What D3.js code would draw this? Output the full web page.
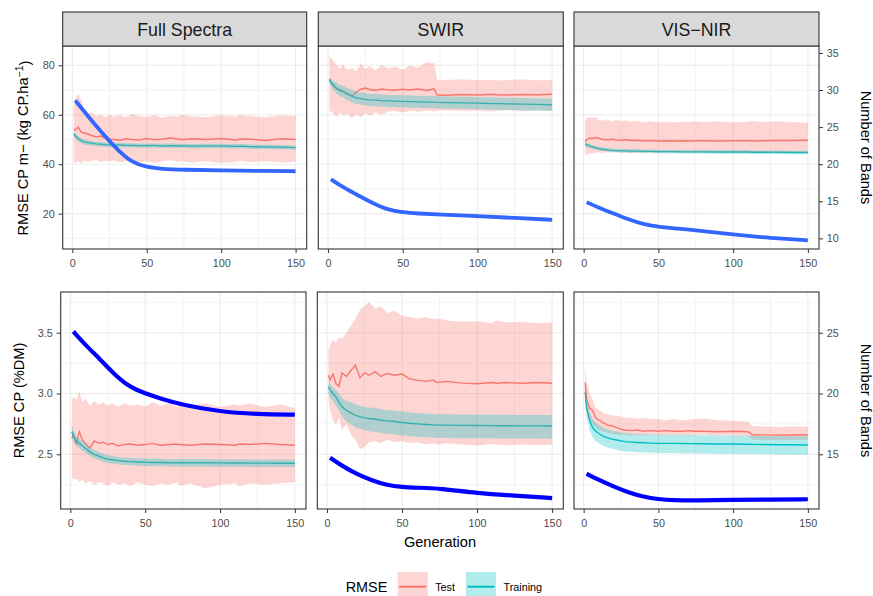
<!DOCTYPE html>
<html>
<head>
<meta charset="utf-8">
<script src="https://cdn.jsdelivr.net/npm/d3@7"></script>
<style>
  body { margin: 0; background: #fff; }
  text { font-family: "Liberation Sans", Arial, sans-serif; }
</style>
</head>
<body>
<script>
var gens = [1,2,4,6,8,10,13,16,19,22,25,28,32,36,40,45,50,55,60,66,71,73,80,90,100,110,113,120,130,140,150];
var blueGens = [2,10,20,30,40,50,60,75,100,125,150];

var facets = ["Full Spectra", "SWIR", "VIS\u2212NIR"];
var xTicks = [0, 50, 100, 150];
var xMinor = [25, 75, 125];
var topYTicks = [20, 40, 60, 80];
var topYMinor = [10, 30, 50, 70];
var topBandTicks = [10, 15, 20, 25, 30, 35];
var botYTicks = [2.5, 3.0, 3.5];
var botYMinor = [2.25, 2.75, 3.25, 3.75];
var botBandTicks = [15, 20, 25];

// top row : RMSE CP m- (kg CP.ha-1)
var fsTopTestMean = [54.2,53.8,55.0,53.0,52.6,52.3,51.6,51.0,51.4,50.5,50.2,50.0,49.7,50.3,50.0,49.8,50.4,49.9,50.1,50.6,50.2,49.9,50.3,50.0,50.4,49.8,50.2,50.1,49.6,50.3,50.0];
var fsTopTestHi   = [63.0,66.5,68.5,66.0,62.0,60.5,61.0,59.5,60.2,59.0,60.0,59.3,59.8,59.0,60.3,59.5,59.0,60.0,58.8,59.6,59.2,60.1,59.4,59.0,59.8,59.3,60.0,59.5,59.0,59.8,59.5];
var fsTopTestLo   = [41.0,40.6,41.2,40.4,41.5,40.8,41.3,41.8,40.9,41.4,41.0,41.6,40.7,41.2,41.5,40.8,41.3,40.6,41.1,41.6,40.9,41.3,40.7,41.2,40.5,41.0,41.4,40.8,41.2,40.7,41.0];
var fsTopTrainMean= [52.3,51.5,50.3,49.5,49.0,48.8,48.5,48.2,48.1,47.9,47.8,47.7,47.8,47.6,47.6,47.5,47.5,47.6,47.4,47.5,47.4,47.5,47.3,47.4,47.4,47.2,47.3,47.1,47.0,46.9,46.7];
var fsTopTrainHi  = [53.2,52.5,51.4,50.5,50.0,49.8,49.4,49.1,49.0,48.8,48.7,48.6,48.7,48.5,48.5,48.4,48.4,48.5,48.3,48.4,48.3,48.4,48.2,48.3,48.3,48.1,48.2,48.0,47.9,47.8,47.6];
var fsTopTrainLo  = [51.4,50.5,49.2,48.5,48.0,47.8,47.6,47.3,47.2,47.0,46.9,46.8,46.9,46.7,46.7,46.6,46.6,46.7,46.5,46.6,46.5,46.6,46.4,46.5,46.5,46.3,46.4,46.2,46.1,46.0,45.8];
var fsTopBands    = [28.6,26.6,24.2,22.0,20.2,19.6,19.35,19.25,19.15,19.1,19.05];

var swTopTestMean = [74.4,73.0,71.5,70.5,70.0,69.4,68.5,67.5,69.2,70.3,70.8,70.2,69.8,70.4,70.1,69.9,70.3,70.0,70.4,69.8,70.5,68.0,67.9,68.2,68.0,68.3,68.1,68.0,68.2,68.1,68.3];
var swTopTestHi   = [84.0,83.0,81.5,80.0,78.5,80.5,78.0,79.0,77.6,80.8,78.5,79.6,77.9,80.2,78.8,79.5,78.2,80.0,79.0,81.2,80.8,74.3,74.0,74.4,73.9,74.2,73.8,74.1,74.3,73.9,74.0];
var swTopTestLo   = [60.5,61.8,60.0,59.2,61.0,59.8,60.5,58.6,60.2,59.0,60.8,59.6,61.0,60.0,61.2,61.5,60.8,61.6,61.2,61.7,61.3,61.6,61.8,61.4,61.7,61.3,61.6,61.8,61.5,61.7,61.6];
var swTopTrainMean= [74.1,73.2,71.8,70.6,69.8,69.4,68.4,67.5,66.8,66.5,66.2,66.0,65.9,65.7,65.6,65.5,65.4,65.3,65.2,65.1,65.1,65.0,64.9,64.8,64.7,64.5,64.5,64.4,64.3,64.2,64.0];
var swTopTrainHi  = [75.3,74.6,73.6,72.7,72.0,71.7,70.8,70.0,69.3,69.0,68.7,68.5,68.4,68.2,68.1,68.0,67.9,67.8,67.7,67.6,67.6,67.5,67.4,67.3,67.2,67.0,67.0,66.9,66.8,66.7,66.5];
var swTopTrainLo  = [72.9,71.6,69.8,68.4,67.5,67.0,66.0,65.0,64.3,64.0,63.7,63.5,63.4,63.2,63.1,63.0,62.9,62.8,62.7,62.6,62.6,62.5,62.4,62.3,62.2,62.0,62.0,61.9,61.8,61.7,61.5];
var swTopBands    = [17.97,16.9,15.8,14.75,13.85,13.5,13.35,13.2,13.0,12.75,12.5];

var vnTopTestMean = [49.2,49.9,50.6,50.4,50.8,50.5,50.0,49.9,50.1,49.8,49.7,49.9,49.6,49.7,49.5,49.6,49.4,49.5,49.4,49.5,49.4,49.5,49.5,49.4,49.5,49.5,49.4,49.5,49.6,49.6,49.7];
var vnTopTestHi   = [57.5,58.5,59.0,58.7,59.2,58.0,57.6,58.2,57.3,57.9,57.5,57.8,57.2,57.6,57.0,57.4,56.8,57.3,56.9,57.2,57.0,57.4,57.1,57.3,56.9,57.2,57.5,57.1,57.4,57.0,56.8];
var vnTopTestLo   = [44.0,43.7,44.2,44.4,44.6,44.8,44.5,44.9,44.6,44.8,44.5,44.7,44.4,44.8,44.6,44.7,44.5,44.8,44.6,44.7,44.5,44.7,44.6,44.7,44.5,44.7,44.6,44.7,44.5,44.6,44.5];
var vnTopTrainMean= [48.2,47.9,47.4,47.0,46.6,46.3,46.0,45.8,45.6,45.5,45.4,45.4,45.3,45.3,45.2,45.2,45.1,45.1,45.1,45.0,45.0,45.0,45.0,44.9,44.9,44.9,44.8,44.8,44.8,44.7,44.7];
var vnTopTrainHi  = [49.2,48.8,48.2,47.8,47.4,47.1,46.7,46.5,46.3,46.2,46.1,46.1,46.0,46.0,45.9,45.9,45.8,45.8,45.8,45.7,45.7,45.7,45.7,45.6,45.6,45.6,45.5,45.5,45.5,45.4,45.4];
var vnTopTrainLo  = [47.2,47.0,46.6,46.2,45.8,45.5,45.3,45.1,44.9,44.8,44.7,44.7,44.6,44.6,44.5,44.5,44.4,44.4,44.4,44.3,44.3,44.3,44.3,44.2,44.2,44.2,44.1,44.1,44.1,44.0,44.0];
var vnTopBands    = [14.87,14.15,13.35,12.55,11.9,11.55,11.35,11.1,10.5,10.05,9.73];

// bottom row : RMSE CP (%DM)
var fsBotTestMean = [2.63,2.66,2.59,2.685,2.62,2.59,2.55,2.61,2.59,2.60,2.58,2.59,2.57,2.58,2.585,2.575,2.58,2.59,2.575,2.58,2.585,2.58,2.575,2.585,2.58,2.575,2.585,2.58,2.59,2.58,2.575];
var fsBotTestHi   = [2.95,2.97,2.95,3.02,2.93,2.96,2.90,2.94,2.91,2.93,2.90,2.92,2.89,2.92,2.90,2.91,2.89,2.93,2.90,2.92,2.89,2.91,2.90,2.92,2.89,2.91,2.90,2.92,2.89,2.91,2.88];
var fsBotTestLo   = [2.31,2.29,2.30,2.27,2.29,2.26,2.28,2.25,2.27,2.26,2.24,2.27,2.25,2.26,2.24,2.27,2.25,2.24,2.26,2.25,2.27,2.24,2.26,2.22,2.25,2.26,2.24,2.26,2.25,2.26,2.27];
var fsBotTrainMean= [2.686,2.65,2.61,2.59,2.57,2.55,2.52,2.50,2.485,2.47,2.46,2.455,2.447,2.443,2.44,2.437,2.434,2.433,2.432,2.431,2.43,2.43,2.43,2.43,2.429,2.428,2.428,2.427,2.427,2.426,2.426];
var fsBotTrainHi  = [2.74,2.70,2.65,2.63,2.61,2.585,2.555,2.535,2.518,2.502,2.492,2.486,2.478,2.474,2.471,2.468,2.465,2.464,2.463,2.462,2.461,2.461,2.461,2.461,2.46,2.459,2.459,2.458,2.458,2.457,2.457];
var fsBotTrainLo  = [2.64,2.60,2.57,2.55,2.53,2.515,2.485,2.465,2.452,2.438,2.428,2.424,2.416,2.412,2.409,2.406,2.403,2.402,2.401,2.40,2.399,2.399,2.399,2.399,2.398,2.397,2.397,2.396,2.396,2.395,2.395];
var fsBotBands    = [25.1,24.0,22.8,21.5,20.5,20.0,19.6,19.05,18.5,18.3,18.26];

var swBotTestMean = [3.15,3.11,3.16,3.08,3.06,3.17,3.14,3.19,3.234,3.13,3.17,3.15,3.18,3.14,3.165,3.15,3.16,3.12,3.11,3.10,3.11,3.09,3.10,3.085,3.08,3.09,3.085,3.09,3.085,3.09,3.085];
var swBotTestHi   = [3.36,3.40,3.44,3.42,3.46,3.45,3.50,3.56,3.62,3.69,3.72,3.755,3.70,3.72,3.66,3.68,3.64,3.63,3.62,3.63,3.61,3.62,3.60,3.59,3.595,3.58,3.60,3.585,3.59,3.58,3.585];
var swBotTestLo   = [2.95,2.86,2.78,2.74,2.80,2.70,2.75,2.66,2.62,2.54,2.56,2.60,2.61,2.59,2.62,2.60,2.61,2.59,2.60,2.58,2.59,2.58,2.59,2.58,2.57,2.585,2.58,2.575,2.58,2.575,2.58];
var swBotTrainMean= [3.056,3.03,3.00,2.97,2.93,2.89,2.86,2.84,2.82,2.81,2.80,2.795,2.79,2.78,2.775,2.77,2.762,2.755,2.75,2.745,2.742,2.74,2.74,2.738,2.737,2.736,2.735,2.735,2.734,2.734,2.733];
var swBotTrainHi  = [3.10,3.08,3.05,3.03,3.00,2.96,2.94,2.93,2.91,2.90,2.89,2.885,2.88,2.87,2.865,2.86,2.852,2.845,2.84,2.835,2.832,2.83,2.83,2.828,2.827,2.826,2.825,2.825,2.824,2.824,2.823];
var swBotTrainLo  = [3.00,2.97,2.94,2.90,2.86,2.81,2.77,2.75,2.72,2.71,2.70,2.69,2.685,2.675,2.67,2.665,2.655,2.65,2.645,2.64,2.637,2.635,2.635,2.633,2.632,2.631,2.63,2.63,2.629,2.629,2.628];
var swBotBands    = [14.72,14.05,13.35,12.85,12.45,12.3,12.25,12.2,11.8,11.6,11.4];

var vnBotTestMean = [3.089,2.95,2.88,2.86,2.80,2.782,2.76,2.74,2.735,2.72,2.705,2.70,2.695,2.70,2.69,2.695,2.69,2.695,2.69,2.69,2.695,2.69,2.69,2.686,2.69,2.686,2.66,2.66,2.658,2.66,2.659];
var vnBotTestHi   = [3.22,3.10,3.00,2.95,2.88,2.87,2.84,2.83,2.82,2.82,2.81,2.80,2.80,2.79,2.80,2.79,2.79,2.78,2.79,2.78,2.785,2.79,2.795,2.78,2.775,2.77,2.73,2.73,2.725,2.73,2.727];
var vnBotTestLo   = [3.00,2.83,2.78,2.75,2.72,2.70,2.685,2.675,2.67,2.665,2.66,2.66,2.655,2.66,2.655,2.66,2.655,2.66,2.655,2.66,2.655,2.66,2.66,2.655,2.655,2.65,2.62,2.62,2.615,2.62,2.618];
var vnBotTrainMean= [3.015,2.88,2.78,2.72,2.69,2.673,2.65,2.635,2.625,2.618,2.61,2.604,2.60,2.597,2.595,2.592,2.59,2.59,2.59,2.589,2.588,2.588,2.587,2.585,2.585,2.583,2.582,2.581,2.579,2.578,2.576];
var vnBotTrainHi  = [3.08,2.94,2.85,2.79,2.76,2.745,2.72,2.705,2.695,2.69,2.68,2.675,2.67,2.667,2.665,2.662,2.66,2.66,2.66,2.659,2.658,2.658,2.657,2.655,2.655,2.653,2.652,2.651,2.649,2.648,2.646];
var vnBotTrainLo  = [2.95,2.80,2.70,2.64,2.61,2.593,2.57,2.555,2.545,2.538,2.53,2.524,2.52,2.517,2.515,2.512,2.51,2.51,2.51,2.509,2.508,2.508,2.507,2.505,2.505,2.503,2.502,2.501,2.499,2.498,2.496];
var vnBotBands    = [13.4,12.9,12.35,11.85,11.5,11.3,11.22,11.2,11.25,11.28,11.3];

var testColor = "#F8766D", trainColor = "#00BFC4";

var svg = d3.select("body").append("svg")
    .attr("width", 873).attr("height", 596);

// the two rows were two separate plots, so their panel edges differ slightly
var rows = [
  { cols: [[62.7, 306.7], [318.3, 563.3], [574, 819]], top: 46, bottom: 249,
    yDomain: [5.7, 87.8], yTicks: topYTicks, yMinor: topYMinor, bandTicks: topBandTicks,
    toBands: function(v){ return (v + 20) / 3; }, blue: "#3366FF", blueWidth: 3.8,
    panels: [
      {test: [fsTopTestMean, fsTopTestLo, fsTopTestHi], train: [fsTopTrainMean, fsTopTrainLo, fsTopTrainHi], bands: fsTopBands},
      {test: [swTopTestMean, swTopTestLo, swTopTestHi], train: [swTopTrainMean, swTopTrainLo, swTopTrainHi], bands: swTopBands},
      {test: [vnTopTestMean, vnTopTestLo, vnTopTestHi], train: [vnTopTrainMean, vnTopTrainLo, vnTopTrainHi], bands: vnTopBands}
    ]},
  { cols: [[60.7, 306], [317.3, 563.3], [574, 819]], top: 292, bottom: 509,
    yDomain: [2.05, 3.835], yTicks: botYTicks, yMinor: botYMinor, bandTicks: botBandTicks,
    toBands: function(v){ return (v - 1) * 10; }, blue: "#0000FF", blueWidth: 4.2,
    panels: [
      {test: [fsBotTestMean, fsBotTestLo, fsBotTestHi], train: [fsBotTrainMean, fsBotTrainLo, fsBotTrainHi], bands: fsBotBands},
      {test: [swBotTestMean, swBotTestLo, swBotTestHi], train: [swBotTrainMean, swBotTrainLo, swBotTrainHi], bands: swBotBands},
      {test: [vnBotTestMean, vnBotTestLo, vnBotTestHi], train: [vnBotTrainMean, vnBotTrainLo, vnBotTrainHi], bands: vnBotBands}
    ]}
];

function styleAxis(g) {
  g.select(".domain").remove();
  g.selectAll(".tick line").attr("stroke", "#333333").attr("stroke-width", 1);
  g.selectAll(".tick text").attr("fill", "#4D4D4D").style("font-size", "10.8px")
    .style("font-family", "Liberation Sans, Arial, sans-serif");
}

rows.forEach(function(row, r) {
  row.panels.forEach(function(p, c) {
    var x0 = row.cols[c][0], x1 = row.cols[c][1];
    var x = d3.scaleLinear().domain([-6.45, 157.45]).range([x0, x1]);
    var y = d3.scaleLinear().domain(row.yDomain).range([row.bottom, row.top]);
    var yb = d3.scaleLinear().domain(row.yDomain.map(row.toBands)).range([row.bottom, row.top]);

    var clipId = "clip" + r + c;
    svg.append("clipPath").attr("id", clipId).append("rect")
      .attr("x", x0).attr("y", row.top).attr("width", x1 - x0).attr("height", row.bottom - row.top);

    var g = svg.append("g");
    g.append("rect").attr("x", x0).attr("y", row.top)
      .attr("width", x1 - x0).attr("height", row.bottom - row.top).attr("fill", "#fff");

    // grid
    g.selectAll(".vmin").data(xMinor).enter().append("line")
      .attr("x1", x).attr("x2", x).attr("y1", row.top).attr("y2", row.bottom)
      .attr("stroke", "#EBEBEB").attr("stroke-width", 0.6);
    g.selectAll(".hmin").data(row.yMinor).enter().append("line")
      .attr("x1", x0).attr("x2", x1).attr("y1", y).attr("y2", y)
      .attr("stroke", "#EBEBEB").attr("stroke-width", 0.6);
    g.selectAll(".vmaj").data(xTicks).enter().append("line")
      .attr("x1", x).attr("x2", x).attr("y1", row.top).attr("y2", row.bottom)
      .attr("stroke", "#EBEBEB").attr("stroke-width", 1.1);
    g.selectAll(".hmaj").data(row.yTicks).enter().append("line")
      .attr("x1", x0).attr("x2", x1).attr("y1", y).attr("y2", y)
      .attr("stroke", "#EBEBEB").attr("stroke-width", 1.1);

    var data = g.append("g").attr("clip-path", "url(#" + clipId + ")");

    var line = function(vals) {
      return d3.line().x(function(d, i){ return x(gens[i]); }).y(function(d){ return y(d); })(vals);
    };
    var area = function(lo, hi) {
      return d3.area().x(function(d, i){ return x(gens[i]); })
        .y0(function(d, i){ return y(lo[i]); })
        .y1(function(d, i){ return y(hi[i]); })(gens);
    };

    // lines first, ribbons are laid over them
    data.append("path").attr("d", line(p.test[0])).attr("fill", "none")
      .attr("stroke", testColor).attr("stroke-width", 1.4);
    data.append("path").attr("d", line(p.train[0])).attr("fill", "none")
      .attr("stroke", trainColor).attr("stroke-width", 1.4);
    data.append("path").attr("d", area(p.test[1], p.test[2]))
      .attr("fill", testColor).attr("fill-opacity", 0.3);
    data.append("path").attr("d", area(p.train[1], p.train[2]))
      .attr("fill", trainColor).attr("fill-opacity", 0.3);

    // number of bands (smoothed)
    var blueLine = d3.line().curve(d3.curveBasis)
      .x(function(d, i){ return x(blueGens[i]); })
      .y(function(d){ return yb(d); });
    data.append("path").attr("d", blueLine(p.bands)).attr("fill", "none")
      .attr("stroke", row.blue).attr("stroke-width", row.blueWidth)
      .attr("stroke-linecap", "butt");

    g.append("rect").attr("x", x0).attr("y", row.top)
      .attr("width", x1 - x0).attr("height", row.bottom - row.top)
      .attr("fill", "none").attr("stroke", "#333333").attr("stroke-width", 1.1);

    // axes
    svg.append("g").attr("transform", "translate(0," + row.bottom + ")")
      .call(d3.axisBottom(x).tickValues(xTicks).tickSize(4).tickPadding(6.5).tickFormat(d3.format("d")))
      .call(styleAxis);
    if (c === 0) {
      svg.append("g").attr("transform", "translate(" + x0 + ",0)")
        .call(d3.axisLeft(y).tickValues(row.yTicks).tickSize(4).tickPadding(4)
          .tickFormat(r === 0 ? d3.format("d") : d3.format(".1f")))
        .call(styleAxis);
    }
    if (c === 2) {
      svg.append("g").attr("transform", "translate(" + x1 + ",0)")
        .call(d3.axisRight(yb).tickValues(row.bandTicks).tickSize(4).tickPadding(3.7).tickFormat(d3.format("d")))
        .call(styleAxis);
    }

    // strips on the top row only
    if (r === 0) {
      svg.append("rect").attr("x", x0).attr("y", 12).attr("width", x1 - x0).attr("height", 34)
        .attr("fill", "#D9D9D9").attr("stroke", "#333333").attr("stroke-width", 1.1);
      svg.append("text").attr("x", (x0 + x1) / 2).attr("y", 35.5)
        .attr("text-anchor", "middle").attr("fill", "#1A1A1A").style("font-size", "17.8px")
        .text(facets[c]);
    }
  });

  // right axis title
  svg.append("text")
    .attr("transform", "translate(866," + ((row.top + row.bottom) / 2) + ") rotate(90)")
    .attr("text-anchor", "middle").attr("dy", "0.35em").style("font-size", "14.6px")
    .text("Number of Bands");
});

// left axis titles
var t1 = svg.append("text")
  .attr("transform", "translate(23,148) rotate(-90)")
  .attr("text-anchor", "middle").attr("dy", "0.35em").style("font-size", "14.6px");
t1.append("tspan").text("RMSE CP m\u2212 (kg CP.ha");
t1.append("tspan").attr("dy", "-0.45em").style("font-size", "10.5px").text("\u22121");
t1.append("tspan").attr("dy", "0.45em").text(")");

svg.append("text")
  .attr("transform", "translate(19,400.5) rotate(-90)")
  .attr("text-anchor", "middle").attr("dy", "0.35em").style("font-size", "14.6px")
  .text("RMSE CP (%DM)");

svg.append("text").attr("x", 440).attr("y", 547).attr("text-anchor", "middle")
  .style("font-size", "14.6px").text("Generation");

// legend
var legendLabels = ["Test", "Training"];
var legendColors = [testColor, trainColor];
var legendX = [397.7, 466];
svg.append("text").attr("x", 345.7).attr("y", 592.3).style("font-size", "14.4px").text("RMSE");
legendLabels.forEach(function(lab, i) {
  svg.append("rect").attr("x", legendX[i]).attr("y", 572).attr("width", 30).attr("height", 29.5)
    .attr("fill", legendColors[i]).attr("fill-opacity", 0.3);
  svg.append("line").attr("x1", legendX[i] + 1.5).attr("x2", legendX[i] + 28.5)
    .attr("y1", 586.7).attr("y2", 586.7)
    .attr("stroke", legendColors[i]).attr("stroke-width", 2);
  svg.append("text").attr("x", legendX[i] + 37.5).attr("y", 590.5)
    .style("font-size", "10.8px").text(lab);
});
</script>
</body>
</html>
